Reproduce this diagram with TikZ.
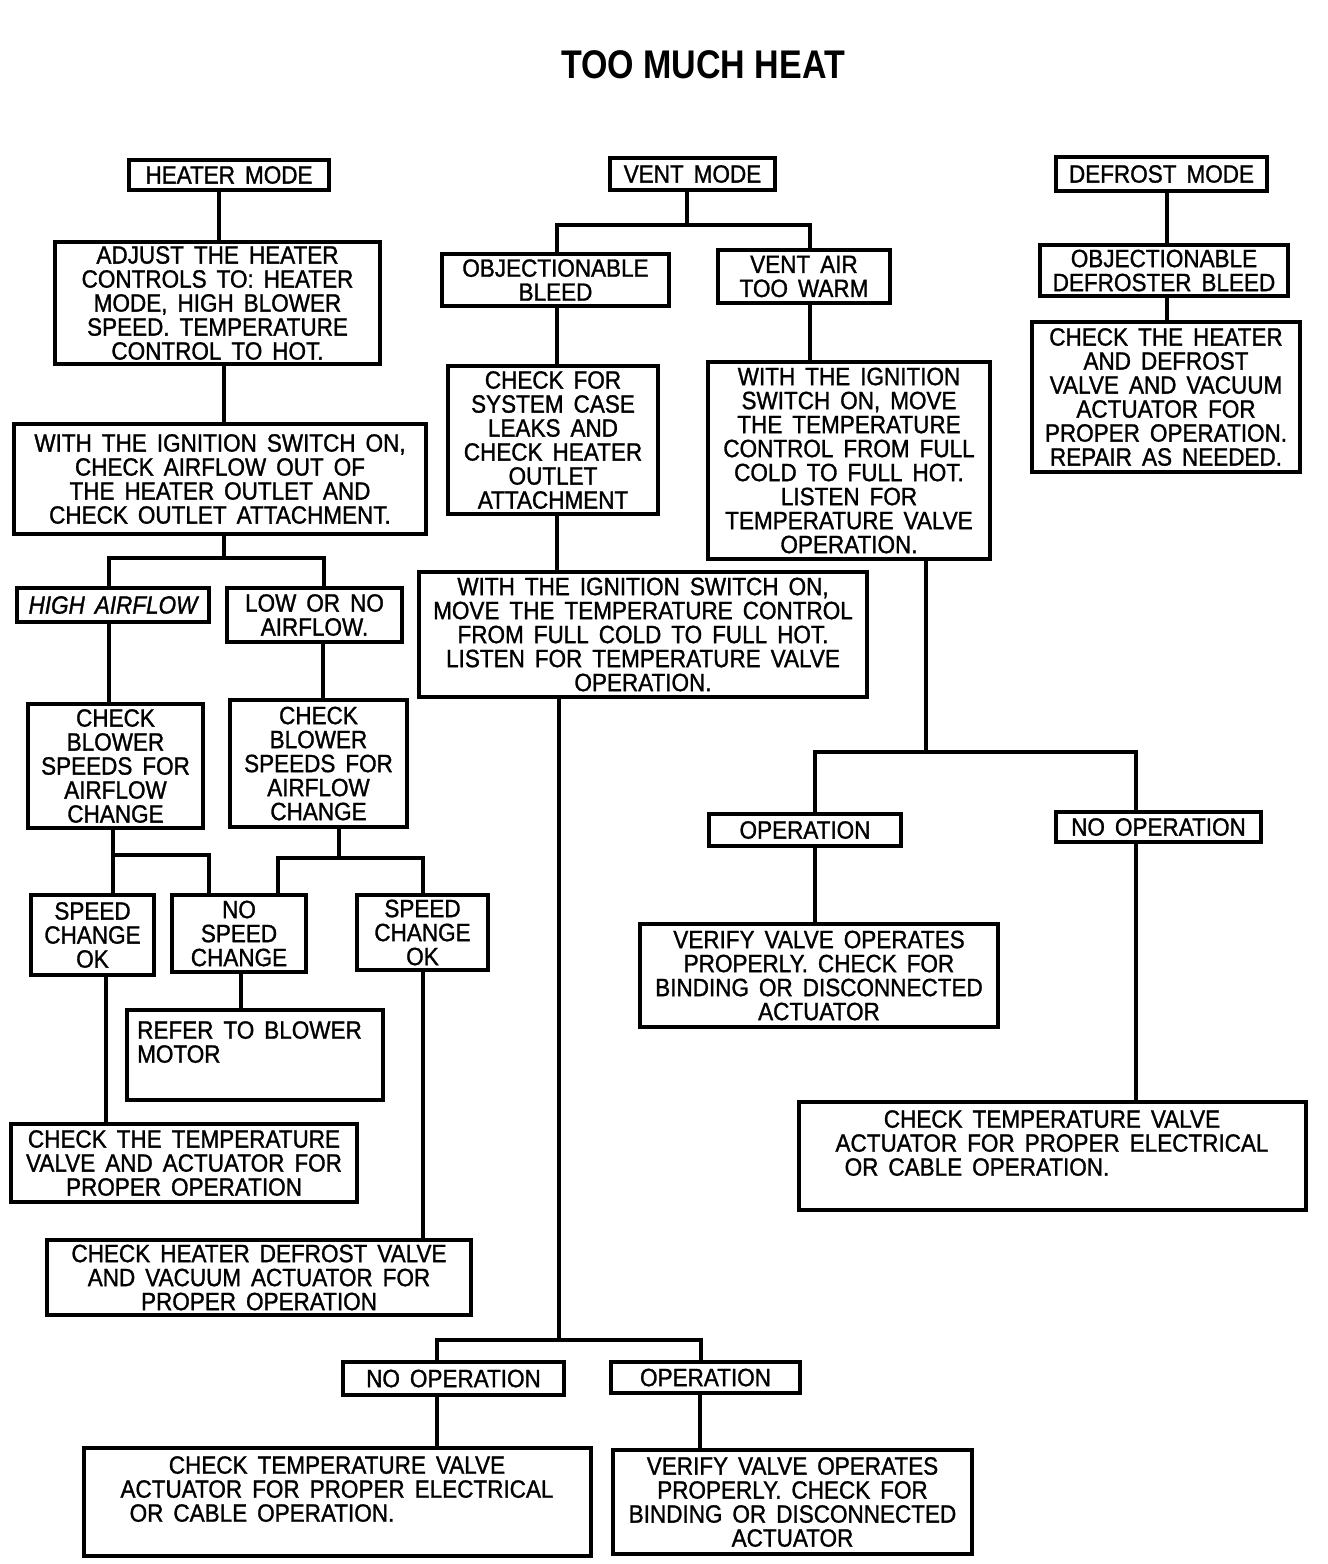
\documentclass[tikz,border=0pt]{standalone}
\usepackage{fontspec}
\newfontfamily\cadfont{Liberation Sans}[FakeStretch=0.9,WordSpace=1.6,FakeBold=1.2]
\newfontfamily\ttlfont{Liberation Sans}[FakeStretch=0.85]
\newcommand\cad{\cadfont\fontsize{25}{24}\selectfont}
\begin{document}
\begin{tikzpicture}[x=1pt,y=-1pt,
  box/.style={draw,line width=3.2pt,inner sep=0pt,align=center,font=\cad},
  txt/.style={inner sep=0pt,align=center,font=\cad},
  conn/.style={line width=3.2pt}]
\useasboundingbox (0,0) rectangle (1328,1564);
\node[font=\ttlfont\bfseries\fontsize{40}{40}\selectfont] (title) at (703,65) {TOO MUCH HEAT};

% ---------- HEATER MODE column
\node[box,minimum width=200pt,minimum height=30pt] (hm) at (229,175) {HEATER MODE};
\node[box,minimum width=325pt,minimum height=122pt] (adj) at (217.5,303) {ADJUST THE HEATER\\CONTROLS TO: HEATER\\MODE, HIGH BLOWER\\SPEED. TEMPERATURE\\CONTROL TO HOT.};
\node[box,minimum width=412pt,minimum height=110pt] (wi1) at (220,479) {WITH THE IGNITION SWITCH ON,\\CHECK AIRFLOW OUT OF\\THE HEATER OUTLET AND\\CHECK OUTLET ATTACHMENT.};
\node[box,minimum width=192pt,minimum height=34pt,font=\cad\itshape] (ha) at (113,605) {HIGH AIRFLOW};
\node[box,minimum width=175pt,minimum height=54pt] (lo) at (314.5,615) {LOW OR NO\\AIRFLOW.};
\node[box,minimum width=175pt,minimum height=124pt] (cb1) at (115.5,766) {CHECK\\BLOWER\\SPEEDS FOR\\AIRFLOW\\CHANGE};
\node[box,minimum width=177pt,minimum height=127pt] (cb2) at (318.5,763.5) {CHECK\\BLOWER\\SPEEDS FOR\\AIRFLOW\\CHANGE};
\node[box,minimum width=123pt,minimum height=80pt] (sc1) at (92.5,935) {SPEED\\CHANGE\\OK};
\node[box,minimum width=134pt,minimum height=77pt] (ns) at (239,933.5) {NO\\SPEED\\CHANGE};
\node[box,minimum width=131pt,minimum height=75pt] (sc2) at (422.5,932.5) {SPEED\\CHANGE\\OK};
\node[box,minimum width=256pt,minimum height=90pt] (ref) at (255,1055) {};
\node[txt,anchor=north west,align=left] (reft) at (137,1021) {REFER TO BLOWER\\MOTOR};
\node[box,minimum width=346pt,minimum height=78pt] (ctv) at (184,1163) {CHECK THE TEMPERATURE\\VALVE AND ACTUATOR FOR\\PROPER OPERATION};
\node[box,minimum width=424pt,minimum height=75pt] (chd) at (259,1277.5) {CHECK HEATER DEFROST VALVE\\AND VACUUM ACTUATOR FOR\\PROPER OPERATION};

% ---------- VENT MODE column
\node[box,minimum width=165pt,minimum height=32pt] (vm) at (692.5,174) {VENT MODE};
\node[box,minimum width=227pt,minimum height=52pt] (ob) at (555.5,280) {OBJECTIONABLE\\BLEED};
\node[box,minimum width=172pt,minimum height=53pt] (va) at (804,276.5) {VENT AIR\\TOO WARM};
\node[box,minimum width=210pt,minimum height=148pt] (cf) at (553,440) {CHECK FOR\\SYSTEM CASE\\LEAKS AND\\CHECK HEATER\\OUTLET\\ATTACHMENT};
\node[box,minimum width=448pt,minimum height=125pt] (wm) at (643,634.5) {WITH THE IGNITION SWITCH ON,\\MOVE THE TEMPERATURE CONTROL\\FROM FULL COLD TO FULL HOT.\\LISTEN FOR TEMPERATURE VALVE\\OPERATION.};
\node[box,minimum width=282pt,minimum height=197pt] (wr) at (849,460.5) {WITH THE IGNITION\\SWITCH ON, MOVE\\THE TEMPERATURE\\CONTROL FROM FULL\\COLD TO FULL HOT.\\LISTEN FOR\\TEMPERATURE VALVE\\OPERATION.};
\node[box,minimum width=221pt,minimum height=33pt] (no1) at (453.5,1378.5) {NO OPERATION};
\node[box,minimum width=189pt,minimum height=31pt] (op1) at (705.5,1377.5) {OPERATION};
\node[box,minimum width=507pt,minimum height=108pt] (ctv2) at (337.5,1502) {};
\node[txt,anchor=north] (ctv2t) at (337,1456) {CHECK TEMPERATURE VALVE\\ACTUATOR FOR PROPER ELECTRICAL\\OR CABLE OPERATION.\rule{150pt}{0pt}};
\node[box,minimum width=359pt,minimum height=104pt] (vb) at (792.5,1502) {VERIFY VALVE OPERATES\\PROPERLY. CHECK FOR\\BINDING OR DISCONNECTED\\ACTUATOR};
\node[box,minimum width=192pt,minimum height=32pt] (opr) at (805,830) {OPERATION};
\node[box,minimum width=205pt,minimum height=30pt] (nor) at (1158.5,827) {NO OPERATION};
\node[box,minimum width=358pt,minimum height=103pt] (vr) at (819,975.5) {VERIFY VALVE OPERATES\\PROPERLY. CHECK FOR\\BINDING OR DISCONNECTED\\ACTUATOR};
\node[box,minimum width=507pt,minimum height=108pt] (ctvr) at (1052.5,1156) {};
\node[txt,anchor=north] (ctvrt) at (1052,1110) {CHECK TEMPERATURE VALVE\\ACTUATOR FOR PROPER ELECTRICAL\\OR CABLE OPERATION.\rule{150pt}{0pt}};

% ---------- DEFROST MODE column
\node[box,minimum width=211pt,minimum height=34pt] (dm) at (1161.5,174) {DEFROST MODE};
\node[box,minimum width=248pt,minimum height=51pt] (odb) at (1164,270.5) {OBJECTIONABLE\\DEFROSTER BLEED};
\node[box,minimum width=268pt,minimum height=150pt] (chk) at (1166,397) {CHECK THE HEATER\\AND DEFROST\\VALVE AND VACUUM\\ACTUATOR FOR\\PROPER OPERATION.\\REPAIR AS NEEDED.};

% ---------- junction points
\coordinate (j1) at (224,558);
\coordinate (j2) at (113,855);
\coordinate (j3) at (339,858);
\coordinate (j4) at (687,225);
\coordinate (j5) at (559,1340);
\coordinate (j6) at (926,752);

% ---------- connectors
\draw[conn] (hm.south -| 219,0) -- (adj.north -| 219,0);
\draw[conn] (adj.south -| 224,0) -- (wi1.north -| 224,0);
\draw[conn] (wi1.south -| j1) -- (j1) -| (ha.north -| 109,0);
\draw[conn] (j1) -| (lo.north -| 324,0);
\draw[conn] (ha.south -| 109,0) -- (cb1.north -| 109,0);
\draw[conn] (lo.south -| 323,0) -- (cb2.north -| 323,0);
\draw[conn] (cb1.south -| j2) -- (j2) -- (sc1.north -| j2);
\draw[conn] (j2) -| (ns.north -| 209,0);
\draw[conn] (cb2.south -| j3) -- (j3) -| (ns.north -| 278,0);
\draw[conn] (j3) -| (sc2.north -| 423,0);
\draw[conn] (ns.south -| 241,0) -- (ref.north -| 241,0);
\draw[conn] (sc1.south -| 106,0) -- (ctv.north -| 106,0);
\draw[conn] (sc2.south -| 423,0) -- (chd.north -| 423,0);

\draw[conn] (vm.south -| j4) -- (j4) -| (ob.north -| 557,0);
\draw[conn] (j4) -| (va.north -| 810,0);
\draw[conn] (ob.south -| 557,0) -- (cf.north -| 557,0);
\draw[conn] (cf.south -| 557,0) -- (wm.north -| 557,0);
\draw[conn] (va.south -| 810,0) -- (wr.north -| 810,0);
\draw[conn] (wm.south -| j5) -- (j5) -| (no1.north -| 437,0);
\draw[conn] (j5) -| (op1.north -| 701,0);
\draw[conn] (no1.south -| 437,0) -- (ctv2.north -| 437,0);
\draw[conn] (op1.south -| 700,0) -- (vb.north -| 700,0);
\draw[conn] (wr.south -| j6) -- (j6) -| (opr.north -| 815,0);
\draw[conn] (j6) -| (nor.north -| 1136,0);
\draw[conn] (opr.south -| 815,0) -- (vr.north -| 815,0);
\draw[conn] (nor.south -| 1136,0) -- (ctvr.north -| 1136,0);

\draw[conn] (dm.south -| 1167,0) -- (odb.north -| 1167,0);
\draw[conn] (odb.south -| 1167,0) -- (chk.north -| 1167,0);
\end{tikzpicture}
\end{document}
